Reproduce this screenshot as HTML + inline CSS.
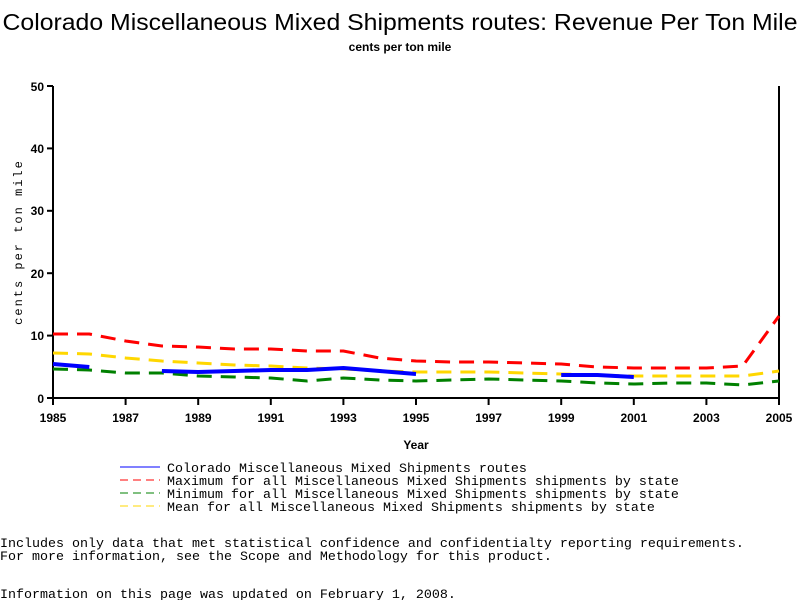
<!DOCTYPE html>
<html><head><style>body{margin:0;background:#fff}svg{display:block}</style></head><body>
<svg width="800" height="600" xmlns="http://www.w3.org/2000/svg">
<rect width="800" height="600" fill="#fff"/>
<text x="400" y="30" font-family="Liberation Sans, sans-serif" font-size="23" text-anchor="middle" textLength="795" lengthAdjust="spacingAndGlyphs">Colorado Miscellaneous Mixed Shipments routes: Revenue Per Ton Mile</text>
<text x="400" y="51" font-family="Liberation Sans, sans-serif" font-size="12" font-weight="bold" text-anchor="middle">cents per ton mile</text>
<g font-family="Liberation Sans, sans-serif" font-size="12" font-weight="bold" fill="#000">
<line x1="53" y1="86" x2="53" y2="399" stroke="#000" stroke-width="2"/>
<line x1="52" y1="398" x2="780" y2="398" stroke="#000" stroke-width="2"/>
<line x1="779" y1="86" x2="779" y2="399" stroke="#000" stroke-width="2"/>
<g stroke="#000" stroke-width="2">
<line x1="47" y1="86" x2="53" y2="86"/><line x1="47" y1="148.4" x2="53" y2="148.4"/><line x1="47" y1="210.8" x2="53" y2="210.8"/><line x1="47" y1="273.2" x2="53" y2="273.2"/><line x1="47" y1="335.6" x2="53" y2="335.6"/><line x1="47" y1="398" x2="53" y2="398"/>
<line x1="53" y1="398" x2="53" y2="405"/><line x1="125.6" y1="398" x2="125.6" y2="405"/><line x1="198.2" y1="398" x2="198.2" y2="405"/><line x1="270.8" y1="398" x2="270.8" y2="405"/><line x1="343.4" y1="398" x2="343.4" y2="405"/><line x1="416" y1="398" x2="416" y2="405"/><line x1="488.6" y1="398" x2="488.6" y2="405"/><line x1="561.2" y1="398" x2="561.2" y2="405"/><line x1="633.8" y1="398" x2="633.8" y2="405"/><line x1="706.4" y1="398" x2="706.4" y2="405"/><line x1="779" y1="398" x2="779" y2="405"/>
</g>
<g text-anchor="end"><text x="44" y="91">50</text><text x="44" y="153">40</text><text x="44" y="215">30</text><text x="44" y="278">20</text><text x="44" y="340">10</text><text x="44" y="403">0</text></g>
<g text-anchor="middle"><text x="53" y="422">1985</text><text x="125.6" y="422">1987</text><text x="198.2" y="422">1989</text><text x="270.8" y="422">1991</text><text x="343.4" y="422">1993</text><text x="416" y="422">1995</text><text x="488.6" y="422">1997</text><text x="561.2" y="422">1999</text><text x="633.8" y="422">2001</text><text x="706.4" y="422">2003</text><text x="779" y="422">2005</text>
<text x="416" y="449">Year</text></g>
<text transform="translate(22,242) rotate(-90)" text-anchor="middle" font-family="Liberation Mono, monospace" font-weight="normal" font-size="12" letter-spacing="2">cents per ton mile</text>
</g>
<g fill="none" stroke-width="3" stroke-dasharray="15,9">
<polyline stroke="#ff0000" points="53,334 89.3,334 125.6,341 161.9,346 198.2,347 234.5,349 270.8,349 307.1,351 343.4,351 379.7,358 416,361 452.3,362 488.6,362 524.9,363 561.2,364 597.5,367 633.8,368 670.1,368 706.4,368 742.7,366 779,316"/>
<polyline stroke="#ffd700" points="53,353 89.3,354 125.6,358 161.9,361 198.2,363 234.5,365 270.8,366 307.1,368 343.4,369 379.7,371 416,372 452.3,372 488.6,372 524.9,373 561.2,374 597.5,375 633.8,376 670.1,376 706.4,376 742.7,376 779,371"/>
<polyline stroke="#008000" points="53,369 89.3,370 125.6,373 161.9,373 198.2,376 234.5,377 270.8,378 307.1,381 343.4,378 379.7,380 416,381 452.3,380 488.6,379 524.9,380 561.2,381 597.5,383 633.8,384 670.1,383 706.4,383 742.7,385 779,381"/>
</g>
<g fill="none" stroke="#0000ff" stroke-width="4">
<polyline points="53,364 89.3,367"/>
<polyline points="161.9,371 198.2,372 234.5,371 270.8,370 307.1,370 343.4,368 379.7,371 416,374"/>
<polyline points="561.2,375 597.5,375 633.8,377"/>
</g>
<g font-family="Liberation Mono, monospace" font-size="13.33">
<line x1="120" y1="467" x2="160" y2="467" stroke="#0000ff" stroke-width="1"/>
<line x1="120" y1="480" x2="160" y2="480" stroke="#ff0000" stroke-width="1" stroke-dasharray="8,5"/>
<line x1="120" y1="493" x2="160" y2="493" stroke="#008000" stroke-width="1" stroke-dasharray="8,5"/>
<line x1="120" y1="506" x2="160" y2="506" stroke="#ffd700" stroke-width="1" stroke-dasharray="8,5"/>
<text x="167" y="472">Colorado Miscellaneous Mixed Shipments routes</text>
<text x="167" y="485">Maximum for all Miscellaneous Mixed Shipments shipments by state</text>
<text x="167" y="498">Minimum for all Miscellaneous Mixed Shipments shipments by state</text>
<text x="167" y="511">Mean for all Miscellaneous Mixed Shipments shipments by state</text>
<text x="0" y="547">Includes only data that met statistical confidence and confidentialty reporting requirements.</text>
<text x="0" y="560">For more information, see the Scope and Methodology for this product.</text>
<text x="0" y="598">Information on this page was updated on February 1, 2008.</text>
</g>
</svg>
</body></html>
